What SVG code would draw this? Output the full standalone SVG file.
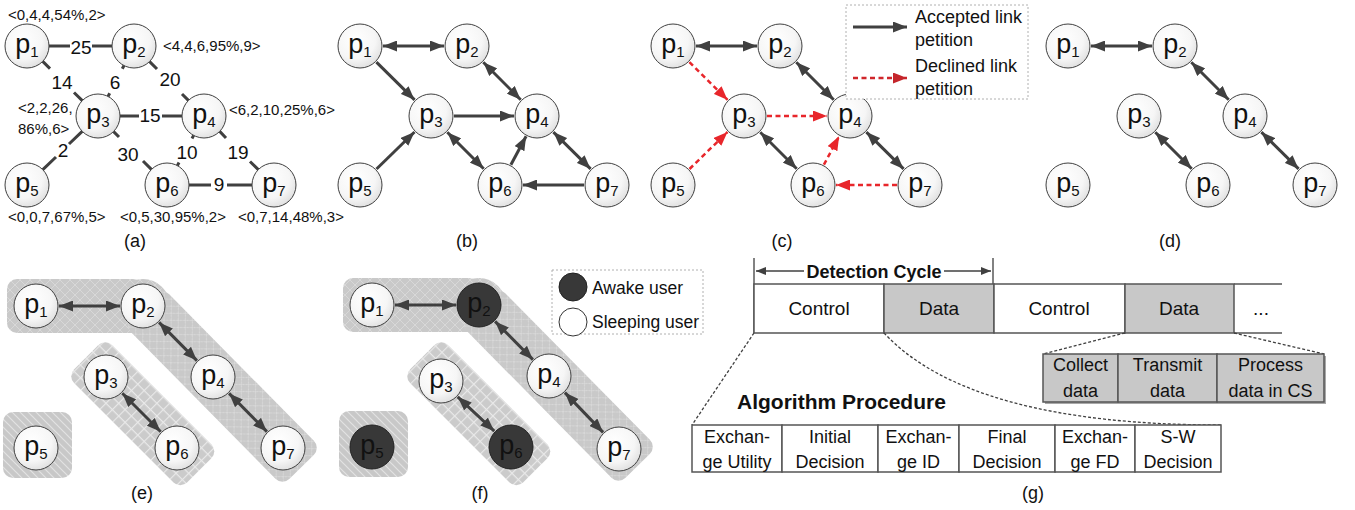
<svg xmlns="http://www.w3.org/2000/svg" width="1355" height="510" viewBox="0 0 1355 510">
<defs>
  <radialGradient id="ng" cx="0.4" cy="0.35" r="0.75">
    <stop offset="0" stop-color="#ffffff"/>
    <stop offset="0.6" stop-color="#f6f6f6"/>
    <stop offset="1" stop-color="#d9d9d9"/>
  </radialGradient>
  <marker id="ah" markerUnits="userSpaceOnUse" markerWidth="14" markerHeight="11" refX="14" refY="5.5" orient="auto-start-reverse">
    <path d="M0,0 L14,5.5 L0,11 z" fill="#404040"/>
  </marker>
  <marker id="ahr" markerUnits="userSpaceOnUse" markerWidth="14" markerHeight="11" refX="14" refY="5.5" orient="auto-start-reverse">
    <path d="M0,0 L14,5.5 L0,11 z" fill="#e8262b"/>
  </marker>
  <marker id="ahrl" markerUnits="userSpaceOnUse" markerWidth="14" markerHeight="11" refX="14" refY="5.5" orient="auto-start-reverse">
    <path d="M0,0 L14,5.5 L0,11 z" fill="#c4262b"/>
  </marker>
  <marker id="ahs" markerUnits="userSpaceOnUse" markerWidth="10" markerHeight="8" refX="10" refY="4" orient="auto-start-reverse">
    <path d="M0,0 L10,4 L0,8 z" fill="#404040"/>
  </marker>
  <pattern id="pd" patternUnits="userSpaceOnUse" width="10" height="10">
    <rect width="10" height="10" fill="#c9c9c9"/>
    <path d="M0,0 L10,10 M10,0 L0,10" stroke="#d8d8d8" stroke-width="1"/>
  </pattern>
  <pattern id="pg" patternUnits="userSpaceOnUse" width="9" height="9">
    <rect width="9" height="9" fill="#cbcbcb"/>
    <path d="M0,0.5 H9 M0.5,0 V9" stroke="#e9e9e9" stroke-width="1.3"/>
  </pattern>
  <pattern id="ph" patternUnits="userSpaceOnUse" width="8" height="8">
    <rect width="8" height="8" fill="#c8c8c8"/>
    <path d="M-1,-1 L9,9 M-1,7 L1,9 M7,-1 L9,1" stroke="#e2e2e2" stroke-width="1.2"/>
  </pattern>
</defs>
<style>
  .n circle { fill: url(#ng); stroke: #404040; stroke-width: 1; }
  .n.dk circle { fill: #383838; stroke: #222222; }
  .t { font-family: "Liberation Sans", Arial, sans-serif; fill: #111111; }
  .nl { font-size: 27px; text-anchor: middle; }
  .sub { font-size: 15px; }
  .w { font-size: 19px; text-anchor: middle; }
  .at { font-size: 15px; }
  .cap { font-size: 18px; text-anchor: middle; }
  .lg { font-size: 18px; }
  .lf { font-size: 17.5px; }
  .bx { font-size: 18px; text-anchor: middle; }
  .tl { font-size: 19px; text-anchor: middle; }
  .bold { font-weight: bold; }
  .seg { stroke: #404040; stroke-width: 3; fill: none; }
  .e { stroke: #404040; stroke-width: 3; fill: none; }
  .bi { marker-start: url(#ah); marker-end: url(#ah); }
  .one { marker-end: url(#ah); }
  .rd { stroke: #e8262b; stroke-width: 2.5; stroke-dasharray: 5 3.5; fill: none; marker-end: url(#ahr); }
  .legbox { fill: #ffffff; stroke: #b0b0b0; stroke-width: 1; stroke-dasharray: 2 2; }
  .box { stroke: #555555; stroke-width: 1.5; }
  .dash { stroke: #404040; stroke-width: 1.3; stroke-dasharray: 3 2; fill: none; }
</style>

<!-- ================= Panel (a) ================= -->
<g id="a-connectors">
  <path class="seg" d="M49,46 H70 M92,46 H112"/>
  <path class="seg" d="M42.7,61.4 L50,68.6 M74,92.5 L82.3,100.6"/>
  <path class="seg" d="M124,65.5 L122.3,68.8 M109.7,93.3 L108,96.5"/>
  <path class="seg" d="M149.6,61.6 L157,69 M182,94 L188.4,100.4"/>
  <path class="seg" d="M120,116 H139 M162,116 H182"/>
  <path class="seg" d="M82.2,131.3 L69,144 M56,157 L42.8,169.7"/>
  <path class="seg" d="M113.6,131.6 L119,137 M143,161 L151.4,169.4"/>
  <path class="seg" d="M193.6,135.4 L192,138.5 M179,162.5 L177.4,165.6"/>
  <path class="seg" d="M219.7,131.4 L226,138 M250,161.5 L258.3,169.6"/>
  <path class="seg" d="M189,185 H211 M227,185 H252"/>
  <text class="t w" x="81" y="54">25</text>
  <text class="t w" x="62" y="89">14</text>
  <text class="t w" x="115" y="89">6</text>
  <text class="t w" x="170" y="86">20</text>
  <text class="t w" x="150" y="122">15</text>
  <text class="t w" x="63" y="157">2</text>
  <text class="t w" x="128" y="161">30</text>
  <text class="t w" x="187" y="159">10</text>
  <text class="t w" x="238" y="159">19</text>
  <text class="t w" x="219" y="191">9</text>
</g>
<g id="a-p1" class="n"><circle cx="27" cy="46" r="22"/><text class="t nl" x="27" y="53">p<tspan class="sub" dy="4">1</tspan></text></g>
<g id="a-p2" class="n"><circle cx="134" cy="46" r="22"/><text class="t nl" x="134" y="53">p<tspan class="sub" dy="4">2</tspan></text></g>
<g id="a-p3" class="n"><circle cx="98" cy="116" r="22"/><text class="t nl" x="98" y="123">p<tspan class="sub" dy="4">3</tspan></text></g>
<g id="a-p4" class="n"><circle cx="204" cy="116" r="22"/><text class="t nl" x="204" y="123">p<tspan class="sub" dy="4">4</tspan></text></g>
<g id="a-p5" class="n"><circle cx="27" cy="185" r="22"/><text class="t nl" x="27" y="192">p<tspan class="sub" dy="4">5</tspan></text></g>
<g id="a-p6" class="n"><circle cx="167" cy="185" r="22"/><text class="t nl" x="167" y="192">p<tspan class="sub" dy="4">6</tspan></text></g>
<g id="a-p7" class="n"><circle cx="274" cy="185" r="22"/><text class="t nl" x="274" y="192">p<tspan class="sub" dy="4">7</tspan></text></g>
<g id="a-attrs">
  <text class="t at" x="8" y="20">&lt;0,4,4,54%,2&gt;</text>
  <text class="t at" x="163" y="51">&lt;4,4,6,95%,9&gt;</text>
  <text class="t at" x="18" y="113">&lt;2,2,26,</text>
  <text class="t at" x="18" y="134">86%,6&gt;</text>
  <text class="t at" x="229" y="115">&lt;6,2,10,25%,6&gt;</text>
  <text class="t at" x="8" y="222">&lt;0,0,7,67%,5&gt;</text>
  <text class="t at" x="120" y="222">&lt;0,5,30,95%,2&gt;</text>
  <text class="t at" x="238" y="222">&lt;0,7,14,48%,3&gt;</text>
  <text class="t cap" x="135" y="247">(a)</text>
</g>

<!-- ================= Panel (b) ================= -->
<g id="b-connectors">
  <path class="e bi" d="M383,46 L444,46"/>
  <path class="e one" d="M376.4,62.1 L414.6,99.9"/>
  <path class="e bi" d="M483.3,62.3 L520.7,99.7"/>
  <path class="e one" d="M454,116 L514,116"/>
  <path class="e one" d="M376.5,169 L414.5,132"/>
  <path class="e bi" d="M447.3,132.3 L483.7,168.7"/>
  <path class="e one" d="M510.9,164.7 L526.1,136.3"/>
  <path class="e bi" d="M553.4,132.1 L590.6,168.9"/>
  <path class="e one" d="M584,185 L523,185"/>
</g>
<g id="b-p1" class="n"><circle cx="360" cy="46" r="22"/><text class="t nl" x="360" y="53">p<tspan class="sub" dy="4">1</tspan></text></g>
<g id="b-p2" class="n"><circle cx="467" cy="46" r="22"/><text class="t nl" x="467" y="53">p<tspan class="sub" dy="4">2</tspan></text></g>
<g id="b-p3" class="n"><circle cx="431" cy="116" r="22"/><text class="t nl" x="431" y="123">p<tspan class="sub" dy="4">3</tspan></text></g>
<g id="b-p4" class="n"><circle cx="537" cy="116" r="22"/><text class="t nl" x="537" y="123">p<tspan class="sub" dy="4">4</tspan></text></g>
<g id="b-p5" class="n"><circle cx="360" cy="185" r="22"/><text class="t nl" x="360" y="192">p<tspan class="sub" dy="4">5</tspan></text></g>
<g id="b-p6" class="n"><circle cx="500" cy="185" r="22"/><text class="t nl" x="500" y="192">p<tspan class="sub" dy="4">6</tspan></text></g>
<g id="b-p7" class="n"><circle cx="607" cy="185" r="22"/><text class="t nl" x="607" y="192">p<tspan class="sub" dy="4">7</tspan></text></g>
<text class="t cap" x="467" y="247">(b)</text>

<!-- ================= Panel (c) ================= -->
<g id="c-connectors">
  <path class="e bi" d="M696,46 L757,46"/>
  <path class="rd" d="M689.4,62.1 L727.6,99.9"/>
  <path class="e bi" d="M796.3,62.3 L833.7,99.7"/>
  <path class="rd" d="M767,116 L827,116"/>
  <path class="rd" d="M689.5,169 L727.5,132"/>
  <path class="e bi" d="M760.3,132.3 L796.7,168.7"/>
  <path class="rd" d="M823.9,164.7 L839.1,136.3"/>
  <path class="e bi" d="M866.4,132.1 L903.6,168.9"/>
  <path class="rd" d="M897,185 L836,185"/>
</g>
<g id="c-p1" class="n"><circle cx="673" cy="46" r="22"/><text class="t nl" x="673" y="53">p<tspan class="sub" dy="4">1</tspan></text></g>
<g id="c-p2" class="n"><circle cx="780" cy="46" r="22"/><text class="t nl" x="780" y="53">p<tspan class="sub" dy="4">2</tspan></text></g>
<g id="c-p3" class="n"><circle cx="744" cy="116" r="22"/><text class="t nl" x="744" y="123">p<tspan class="sub" dy="4">3</tspan></text></g>
<g id="c-p4" class="n"><circle cx="850" cy="116" r="22"/><text class="t nl" x="850" y="123">p<tspan class="sub" dy="4">4</tspan></text></g>
<g id="c-p5" class="n"><circle cx="673" cy="185" r="22"/><text class="t nl" x="673" y="192">p<tspan class="sub" dy="4">5</tspan></text></g>
<g id="c-p6" class="n"><circle cx="813" cy="185" r="22"/><text class="t nl" x="813" y="192">p<tspan class="sub" dy="4">6</tspan></text></g>
<g id="c-p7" class="n"><circle cx="920" cy="185" r="22"/><text class="t nl" x="920" y="192">p<tspan class="sub" dy="4">7</tspan></text></g>
<g id="c-legend">
  <rect class="legbox" x="846" y="5" width="182" height="94"/>
  <path class="e one" d="M853,27 L907,27"/>
  <path d="M853,78 L907,78" stroke="#d0262b" stroke-width="2.5" stroke-dasharray="5 3.5" fill="none" marker-end="url(#ahrl)"/>
  <text class="t lg" x="915" y="23">Accepted link</text>
  <text class="t lg" x="915" y="46">petition</text>
  <text class="t lg" x="915" y="72">Declined link</text>
  <text class="t lg" x="915" y="95">petition</text>
</g>
<text class="t cap" x="782" y="247">(c)</text>

<!-- ================= Panel (d) ================= -->
<g id="d-connectors">
  <path class="e bi" d="M1091,46 L1152,46"/>
  <path class="e bi" d="M1191.3,62.3 L1228.7,99.7"/>
  <path class="e bi" d="M1155.3,132.3 L1191.7,168.7"/>
  <path class="e bi" d="M1261.4,132.1 L1298.6,168.9"/>
</g>
<g id="d-p1" class="n"><circle cx="1068" cy="46" r="22"/><text class="t nl" x="1068" y="53">p<tspan class="sub" dy="4">1</tspan></text></g>
<g id="d-p2" class="n"><circle cx="1175" cy="46" r="22"/><text class="t nl" x="1175" y="53">p<tspan class="sub" dy="4">2</tspan></text></g>
<g id="d-p3" class="n"><circle cx="1139" cy="116" r="22"/><text class="t nl" x="1139" y="123">p<tspan class="sub" dy="4">3</tspan></text></g>
<g id="d-p4" class="n"><circle cx="1245" cy="116" r="22"/><text class="t nl" x="1245" y="123">p<tspan class="sub" dy="4">4</tspan></text></g>
<g id="d-p5" class="n"><circle cx="1068" cy="185" r="22"/><text class="t nl" x="1068" y="192">p<tspan class="sub" dy="4">5</tspan></text></g>
<g id="d-p6" class="n"><circle cx="1208" cy="185" r="22"/><text class="t nl" x="1208" y="192">p<tspan class="sub" dy="4">6</tspan></text></g>
<g id="d-p7" class="n"><circle cx="1315" cy="185" r="22"/><text class="t nl" x="1315" y="192">p<tspan class="sub" dy="4">7</tspan></text></g>
<text class="t cap" x="1170" y="247">(d)</text>

<!-- ================= Panel (e) ================= -->
<g id="e-groups">
  <g fill="url(#pd)">
    <rect x="7" y="279" width="136" height="54" rx="10"/>
    <circle cx="143" cy="306" r="27"/>
    <rect x="0" y="-27" width="226" height="54" rx="10" transform="translate(143,306) rotate(45.4)"/>
  </g>
  <rect fill="url(#pg)" x="-28" y="-27" width="160" height="54" rx="10" transform="translate(106,377) rotate(45)"/>
  <rect fill="url(#ph)" x="3" y="412" width="69" height="66" rx="10"/>
</g>
<g id="e-connectors">
  <path class="e bi" d="M59,306 L120,306"/>
  <path class="e bi" d="M159.1,322.4 L196.9,360.6"/>
  <path class="e bi" d="M122.3,393.3 L160.7,431.7"/>
  <path class="e bi" d="M229.1,393.4 L266.9,431.6"/>
</g>
<g id="e-p1" class="n"><circle cx="36" cy="306" r="22"/><text class="t nl" x="36" y="313">p<tspan class="sub" dy="4">1</tspan></text></g>
<g id="e-p2" class="n"><circle cx="143" cy="306" r="22"/><text class="t nl" x="143" y="313">p<tspan class="sub" dy="4">2</tspan></text></g>
<g id="e-p3" class="n"><circle cx="106" cy="377" r="22"/><text class="t nl" x="106" y="384">p<tspan class="sub" dy="4">3</tspan></text></g>
<g id="e-p4" class="n"><circle cx="213" cy="377" r="22"/><text class="t nl" x="213" y="384">p<tspan class="sub" dy="4">4</tspan></text></g>
<g id="e-p5" class="n"><circle cx="36" cy="448" r="22"/><text class="t nl" x="36" y="455">p<tspan class="sub" dy="4">5</tspan></text></g>
<g id="e-p6" class="n"><circle cx="177" cy="448" r="22"/><text class="t nl" x="177" y="455">p<tspan class="sub" dy="4">6</tspan></text></g>
<g id="e-p7" class="n"><circle cx="283" cy="448" r="22"/><text class="t nl" x="283" y="455">p<tspan class="sub" dy="4">7</tspan></text></g>
<text class="t cap" x="142" y="499">(e)</text>

<!-- ================= Panel (f) ================= -->
<g id="f-groups">
  <g fill="url(#pd)">
    <rect x="343" y="278" width="136" height="54" rx="10"/>
    <circle cx="479" cy="305" r="27"/>
    <rect x="0" y="-27" width="226" height="54" rx="10" transform="translate(479,305) rotate(45.4)"/>
  </g>
  <rect fill="url(#pg)" x="-28" y="-27" width="160" height="54" rx="10" transform="translate(442,377) rotate(45)"/>
  <rect fill="url(#ph)" x="339" y="411" width="69" height="66" rx="10"/>
</g>
<g id="f-connectors">
  <path class="e bi" d="M395,305 L456,305"/>
  <path class="e bi" d="M495.1,321.4 L532.9,359.6"/>
  <path class="e bi" d="M457.7,396.8 L494.3,431.2"/>
  <path class="e bi" d="M564.9,392.6 L603.1,432.4"/>
</g>
<g id="f-p1" class="n"><circle cx="372" cy="305" r="22"/><text class="t nl" x="372" y="312">p<tspan class="sub" dy="4">1</tspan></text></g>
<g id="f-p2" class="n dk"><circle cx="479" cy="305" r="22"/><text class="t nl" x="479" y="312">p<tspan class="sub" dy="4">2</tspan></text></g>
<g id="f-p3" class="n"><circle cx="441" cy="381" r="22"/><text class="t nl" x="441" y="388">p<tspan class="sub" dy="4">3</tspan></text></g>
<g id="f-p4" class="n"><circle cx="549" cy="376" r="22"/><text class="t nl" x="549" y="383">p<tspan class="sub" dy="4">4</tspan></text></g>
<g id="f-p5" class="n dk"><circle cx="372" cy="447" r="22"/><text class="t nl" x="372" y="454">p<tspan class="sub" dy="4">5</tspan></text></g>
<g id="f-p6" class="n dk"><circle cx="511" cy="447" r="22"/><text class="t nl" x="511" y="454">p<tspan class="sub" dy="4">6</tspan></text></g>
<g id="f-p7" class="n"><circle cx="619" cy="449" r="22"/><text class="t nl" x="619" y="456">p<tspan class="sub" dy="4">7</tspan></text></g>
<g id="f-legend">
  <rect class="legbox" x="552" y="270" width="151" height="64"/>
  <circle cx="573" cy="287" r="14" fill="#383838" stroke="#222222"/>
  <circle cx="573" cy="322" r="14" fill="#ffffff" stroke="#333333"/>
  <text class="t lf" x="592" y="294">Awake user</text>
  <text class="t lf" x="592" y="328">Sleeping user</text>
</g>
<text class="t cap" x="480" y="499">(f)</text>

<!-- ================= Panel (g) ================= -->
<g id="g-timeline">
  <path d="M754,258 V333 M993,258 V284" stroke="#404040" stroke-width="1.3" fill="none"/>
  <path d="M756,271 H804" stroke="#404040" stroke-width="1.5" marker-start="url(#ahs)"/>
  <path d="M944,271 H991" stroke="#404040" stroke-width="1.5" marker-end="url(#ahs)"/>
  <text class="t bold" x="874" y="278" font-size="18" text-anchor="middle">Detection Cycle</text>
  <rect class="box" x="754" y="284" width="130" height="49" fill="#ffffff"/>
  <rect class="box" x="884" y="284" width="110" height="49" fill="#c8c8c8"/>
  <rect class="box" x="994" y="284" width="131" height="49" fill="#ffffff"/>
  <rect class="box" x="1125" y="284" width="109" height="49" fill="#c8c8c8"/>
  <path d="M1234,284 H1282 M1234,333 H1282" stroke="#555555" stroke-width="1.5"/>
  <text class="t tl" x="819" y="315">Control</text>
  <text class="t tl" x="939" y="315">Data</text>
  <text class="t tl" x="1059" y="315">Control</text>
  <text class="t tl" x="1179" y="315">Data</text>
  <text class="t tl" x="1261" y="315">...</text>
</g>
<g id="g-zoomlines">
  <path class="dash" d="M754,333 L692,425"/>
  <path class="dash" d="M884,333 Q970,425 1221,425"/>
  <path class="dash" d="M1125,333 L1043,354"/>
  <path class="dash" d="M1234,333 L1324,354"/>
</g>
<g id="g-data">
  <rect x="1045" y="356" width="281" height="48" fill="#a8a8a8"/>
  <rect class="box" x="1043" y="354" width="75" height="48" fill="#c8c8c8" stroke="#7a7a7a"/>
  <rect class="box" x="1118" y="354" width="99" height="48" fill="#c8c8c8" stroke="#7a7a7a"/>
  <rect class="box" x="1217" y="354" width="107" height="48" fill="#c8c8c8" stroke="#7a7a7a"/>
  <text class="t bx" x="1080.5" y="371">Collect</text>
  <text class="t bx" x="1080.5" y="397">data</text>
  <text class="t bx" x="1167.5" y="371">Transmit</text>
  <text class="t bx" x="1167.5" y="397">data</text>
  <text class="t bx" x="1270.5" y="371">Process</text>
  <text class="t bx" x="1270.5" y="397">data in CS</text>
</g>
<g id="g-procedure">
  <text class="t bold" x="737" y="409" font-size="21">Algorithm Procedure</text>
  <rect class="box" x="692" y="425" width="90" height="47" fill="#ffffff"/>
  <rect class="box" x="782" y="425" width="96" height="47" fill="#ffffff"/>
  <rect class="box" x="878" y="425" width="81" height="47" fill="#ffffff"/>
  <rect class="box" x="959" y="425" width="96" height="47" fill="#ffffff"/>
  <rect class="box" x="1055" y="425" width="80" height="47" fill="#ffffff"/>
  <rect class="box" x="1135" y="425" width="86" height="47" fill="#ffffff"/>
  <text class="t bx" x="737" y="443">Exchan-</text>
  <text class="t bx" x="737" y="468">ge Utility</text>
  <text class="t bx" x="830" y="443">Initial</text>
  <text class="t bx" x="830" y="468">Decision</text>
  <text class="t bx" x="918.5" y="443">Exchan-</text>
  <text class="t bx" x="918.5" y="468">ge ID</text>
  <text class="t bx" x="1007" y="443">Final</text>
  <text class="t bx" x="1007" y="468">Decision</text>
  <text class="t bx" x="1095" y="443">Exchan-</text>
  <text class="t bx" x="1095" y="468">ge FD</text>
  <text class="t bx" x="1178" y="443">S-W</text>
  <text class="t bx" x="1178" y="468">Decision</text>
</g>
<text class="t cap" x="1033" y="499">(g)</text>
</svg>
